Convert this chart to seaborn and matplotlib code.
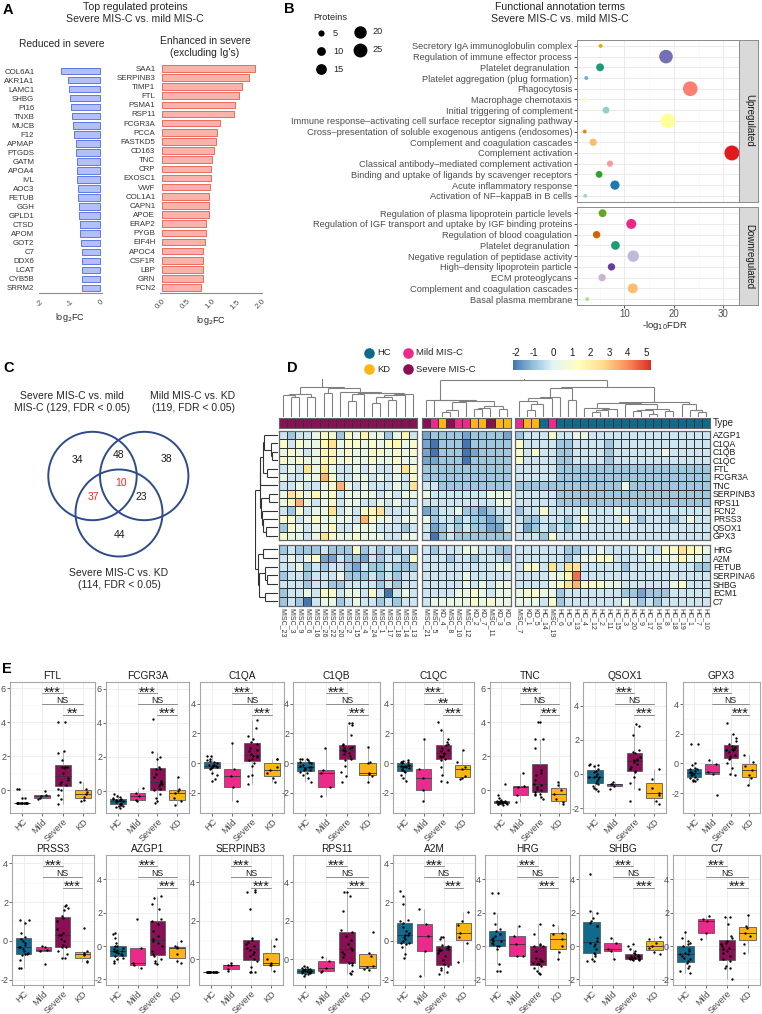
"""Multi-panel proteomics figure: MIS-C severity (panels A-E)."""

import numpy as np
import pandas as pd
import matplotlib
matplotlib.use("Agg")
import matplotlib.pyplot as plt
import matplotlib.transforms as mtransforms
from matplotlib.collections import LineCollection
from matplotlib.colors import LinearSegmentedColormap, ListedColormap, Normalize
from matplotlib.patches import Circle
import seaborn as sns

W, H = 762, 1014

# ---------------- A: top regulated proteins ----------------
reduced_genes = ["COL6A1", "AKR1A1", "LAMC1", "SHBG", "PI16", "TNXB", "MUCB", "F12", "APMAP",
                 "PTGDS", "GATM", "APOA4", "IVL", "AOC3", "FETUB", "GGH", "GPLD1", "CTSD",
                 "APOM", "GOT2", "C7", "DDX6", "LCAT", "CYB5B", "SRRM2"]
reduced_fc = [-1.31, -1.06, -1.05, -0.99, -0.96, -0.92, -0.89, -0.86, -0.81, -0.79, -0.78, -0.76,
              -0.76, -0.72, -0.72, -0.69, -0.69, -0.66, -0.66, -0.62, -0.61, -0.60, -0.59, -0.59, -0.59]
enhanced_genes = ["SAA1", "SERPINB3", "TIMP1", "FTL", "PSMA1", "RSP11", "FCGR3A", "PCCA", "FASTKD5",
                  "CD163", "TNC", "CRP", "EXOSC1", "VWF", "COL1A1", "CAPN1", "APOE", "ERAP2", "PYGB",
                  "EIF4H", "APOC4", "CSF1R", "LBP", "GRN", "FCN2"]
enhanced_fc = [1.85, 1.73, 1.59, 1.53, 1.45, 1.43, 1.15, 1.09, 1.07, 1.03, 0.99, 0.97, 0.97, 0.95,
               0.94, 0.93, 0.93, 0.88, 0.87, 0.85, 0.82, 0.82, 0.81, 0.81, 0.77]

# ---------------- B: functional annotation terms ----------------
up_terms = ["Secretory IgA immunoglobulin complex", "Regulation of immune effector process",
            "Platelet degranulation ", "Platelet aggregation (plug formation)", "Phagocytosis",
            "Macrophage chemotaxis", "Initial triggering of complement",
            "Immune response\u2013activating cell surface receptor signaling pathway",
            "Cross\u2013presentation of soluble exogenous antigens (endosomes)",
            "Complement and coagulation cascades", "Complement activation",
            "Classical antibody\u2013mediated complement activation",
            "Binding and uptake of ligands by scavenger receptors", "Acute inflammatory response",
            "Activation of NF\u2013kappaB in B cells"]
up_fdr = [5.2, 18.4, 5.1, 2.3, 23.3, 2.0, 6.3, 18.8, 2.0, 3.7, 31.7, 7.1, 4.9, 8.1, 2.1]
up_n = [2, 24, 8, 2, 28, 2, 6, 28, 2, 7, 29, 5, 6, 11, 2]
up_colors = ["#E6AB02", "#7570B3", "#1B9E77", "#6BAED6", "#FB8072", "#FFFFB3", "#8DD3C7", "#FFFF99",
             "#FF7F00", "#FDBF6F", "#E31A1C", "#FB9A99", "#33A02C", "#1F78B4", "#A6CEE3"]
down_terms = ["Regulation of plasma lipoprotein particle levels",
              "Regulation of IGF transport and uptake by IGF binding proteins",
              "Regulation of blood coagulation", "Platelet degranulation ",
              "Negative regulation of peptidase activity", "High\u2013density lipoprotein particle",
              "ECM proteoglycans", "Complement and coagulation cascades", "Basal plasma membrane"]
down_fdr = [5.6, 11.4, 4.4, 8.2, 11.8, 7.4, 5.5, 11.7, 2.5]
down_n = [8, 13, 7, 10, 17, 7, 7, 13, 2]
down_colors = ["#66A61E", "#E7298A", "#D95F02", "#1B9E77", "#BEBADA", "#6A3D9A", "#CAB2D6",
               "#FDBF6F", "#B2DF8A"]
legend_n = [5, 10, 15, 20, 25]

# ---------------- C: Venn counts ----------------
venn_counts = [34, 48, 38, 37, 10, 23, 44]

# ---------------- D: heatmap ----------------
hm_rows = ["AZGP1", "C1QA", "C1QB", "C1QC", "FTL", "FCGR3A", "TNC", "SERPINB3", "RPS11", "FCN2",
           "PRSS3", "QSOX1", "GPX3", "HRG", "A2M", "FETUB", "SERPINA6", "SHBG", "ECM1", "C7"]
cols_c1 = ["MISC_23", "MISC_3", "MISC_9", "MISC_6", "MISC_16", "MISC_26", "MISC_22", "MISC_20",
           "MISC_2", "MISC_15", "MISC_4", "MISC_24", "MISC_1", "MISC_17", "MISC_18", "MISC_14", "MISC_13"]
cols_c2 = ["MISC_21", "MISC_5", "KD_4", "MISC_8", "MISC_10", "MISC_12", "KD_2", "KD_7", "MISC_11",
           "KD_3", "KD_6"]
cols_c3 = ["MISC_7", "KD_1", "KD_5", "HC_14", "MISC_19", "HC_6", "HC_5", "HC_13", "HC_4", "HC_12",
           "HC_2", "HC_11", "HC_15", "HC_3", "HC_20", "HC_9", "HC_17", "HC_16", "HC_8", "HC_18",
           "HC_19", "HC_1", "HC_7", "HC_10"]
# H = HC, M = mild MIS-C, S = severe MIS-C, K = KD
types_c1 = "SSSSSS SSSSSS SSSSS"
types_c2 = "SMKSMM KKSKK"
types_c3 = "MKKHMH HHHHHH HHHHHH HHHHHH"
# one character per cell, decoded with hm_levels
hm_levels = {"0": -2.0, "1": -1.35, "2": -0.8, "3": -0.25, "4": 0.4, "5": 1.0, "6": 1.6,
             "7": 2.4, "8": 3.2, "9": 4.2}
hm_c1 = ["323345 525464 42463", "535446 745545 45645", "454346 645445 54545", "545446 645445 44544",
         "343747 433434 33475", "433448 533443 43435", "334334 584343 33437", "476464 534444 34344",
         "468434 534433 43433", "325344 734356 73334", "553454 444385 44344", "254344 633444 33323",
         "544347 544544 43344", "232223 222523 23232", "343451 132213 23325", "334232 332132 23222",
         "233233 342223 23233", "333233 223333 23233", "233435 534435 30343", "232034 423433 23233"]
hm_c2 = ["122221 22221", "102220 22222", "102220 12222", "112220 22222", "222222 22222",
         "222222 22222", "332222 22222", "433333 33444", "333333 33344", "123342 21233",
         "423323 22123", "312323 22113", "302322 22222", "323334 43322", "333233 23332",
         "333333 33344", "333334 33333", "333334 34344", "333344 54344", "344444 54544"]
hm_c3 = ["233353 344333 333333 333333", "533332 233332 333333 333333", "535332 233332 333333 433333",
         "533332 233332 333333 333333", "333332 222222 222222 222222", "333332 222222 222222 222222",
         "222222 222222 242222 222222", "333332 222222 222222 222222", "333332 222222 222222 222222",
         "233533 334333 433333 333333", "322333 235333 353233 323433", "312323 233333 333333 333333",
         "333253 333333 333333 333333", "333333 223343 333433 557654", "333333 234455 333344 446443",
         "355373 773333 323333 333322", "333344 693333 333333 333333", "333345 785554 433333 345333",
         "455442 333333 322122 233333", "444352 333333 343232 333333"]

# ---------------- E: per-protein box plots (HC, Mild, Severe, KD) ----------------
e_groups = ["HC", "Mild", "Severe", "KD"]
ftl = ([0.1, 0.1, -0.45, -0.45, -0.75, -0.75, -0.75, -0.75, -0.75, -0.75, -0.75, -0.75, -0.75, -0.75,
        -0.75, -0.75, -0.75, -0.75, -0.75, -0.75],
       [-0.02, -0.3, -0.35, -0.45, -0.5],
       [4.0, 4.0, 2.3, 2.2, 1.8, 1.4, 1.4, 1.35, 1.3, 1.0, 0.7, 0.6, 0.5, 0.4, 0.3, 0.1, 0.0, -0.3, -0.5, -0.8],
       [0.5, 0.1, -0.1, -0.2, -0.4, -0.55, -0.6])
fcgr3a = ([-0.2, -0.3, -0.35, -0.4, -0.45, -0.45, -0.5, -0.55, -0.55, -0.6, -0.6, -0.65, -0.7, -0.75,
           -0.78, -0.8, -0.85, -0.9, -0.95, -1.0],
          [0.2, -0.1, -0.3, -0.55, -0.6],
          [4.2, 2.3, 2.0, 1.9, 1.4, 1.3, 1.3, 1.0, 0.8, 0.6, 0.5, 0.4, 0.4, 0.3, 0.1, 0.05, -0.2, -0.4, -0.6, -0.7],
          [0.85, 0.1, 0.0, -0.1, -0.4, -0.6, -0.8])
c1qa = ([0.5, 0.45, 0.3, 0.2, 0.15, 0.05, 0.0, -0.1, -0.15, -0.15, -0.2, -0.2, -0.25, -0.3, -0.35, -0.4,
         -0.7, -0.8, -1.1, -1.2],
        [1.35, -0.4, -0.85, -1.6, -2.6],
        [2.9, 2.4, 1.8, 1.6, 1.4, 1.3, 1.0, 0.9, 0.8, 0.6, 0.5, 0.5, 0.4, 0.3, 0.2, 0.0, -0.2, -0.8, -0.9, -1.4],
        [0.3, 0.25, -0.3, -0.5, -0.7, -1.0, -1.3])
c1qb = ([0.3, 0.3, 0.25, 0.2, 0.1, 0.1, 0.0, -0.1, -0.2, -0.25, -0.3, -0.35, -0.4, -0.45, -0.5, -0.6,
         -0.7, -0.8, -1.0, -1.3],
        [1.0, -0.45, -0.65, -1.65, -2.2],
        [2.7, 2.7, 2.6, 1.9, 1.3, 1.2, 1.1, 1.0, 1.0, 0.9, 0.8, 0.7, 0.6, 0.5, 0.3, 0.2, -0.2, -0.6, -0.9, -1.3],
        [1.1, 0.05, 0.0, -0.7, -0.75, -0.85, -1.3])
c1qc = ([0.2, 0.15, 0.1, 0.1, 0.05, 0.0, -0.1, -0.15, -0.2, -0.2, -0.25, -0.3, -0.35, -0.4, -0.5, -0.55,
         -0.6, -0.8, -1.0, -1.2],
        [1.6, -0.4, -1.0, -1.8, -2.6],
        [2.8, 2.2, 1.6, 1.4, 1.3, 1.2, 1.0, 0.9, 0.8, 0.7, 0.6, 0.5, 0.5, 0.4, 0.3, 0.2, -0.3, -0.8, -1.2, -1.3],
        [0.9, 0.1, -0.3, -0.4, -0.9, -1.0, -1.1])
tnc = ([0.35, -0.3, -0.45, -0.55, -0.6, -0.65, -0.65, -0.7, -0.7, -0.7, -0.7, -0.72, -0.75, -0.75, -0.75,
        -0.75, -0.78, -0.8, -0.8, -0.85],
       [1.0, 0.25, 0.2, -0.3, -0.7],
       [4.0, 4.0, 3.0, 3.0, 2.5, 1.2, 1.0, 0.9, 0.6, 0.4, 0.3, 0.2, 0.1, 0.0, -0.1, -0.2, -0.2, -0.3, -0.4, -0.5],
       [0.5, 0.3, 0.0, -0.2, -0.5, -0.7, -0.8])
qsox1 = ([0.6, 0.55, 0.5, 0.45, 0.3, 0.2, 0.1, 0.0, -0.1, -0.15, -0.15, -0.2, -0.3, -0.4, -0.5, -0.6,
          -0.7, -0.8, -0.9, -1.0],
         [-0.45, -0.6, -0.6, -0.7, -0.9],
         [2.9, 2.8, 2.3, 1.4, 1.3, 1.2, 1.0, 0.9, 0.8, 0.8, 0.7, 0.6, 0.4, 0.3, 0.2, 0.1, -0.2, -0.5, -0.9, -1.6],
         [0.3, -0.3, -0.8, -1.1, -1.2, -1.6, -1.75])
gpx3 = ([1.3, 1.3, 0.0, -0.1, -0.3, -0.35, -0.4, -0.5, -0.55, -0.6, -0.65, -0.7, -0.75, -0.8, -0.9, -1.0,
         -1.05, -1.1, -1.2, -1.2],
        [0.25, -0.05, -0.55, -0.7, -2.15],
        [2.7, 2.0, 1.7, 1.5, 1.3, 1.2, 1.1, 1.0, 1.0, 0.9, 0.9, 0.8, 0.6, 0.5, 0.4, 0.3, 0.0, -0.3, -0.7, -0.8],
        [0.55, 0.1, -0.2, -0.45, -0.8, -1.0, -1.45])
prss3 = ([1.05, 1.05, 0.9, 0.4, 0.2, 0.1, 0.0, -0.1, -0.2, -0.3, -0.3, -0.4, -0.5, -0.6, -0.7, -0.7, -0.75,
          -1.0, -1.4, -1.4],
         [-0.25, -0.3, -0.45, -0.5, -1.2],
         [1.85, 1.8, 1.7, 1.6, 1.3, 1.2, 1.0, 0.6, 0.4, 0.3, 0.3, 0.1, 0.0, -0.2, -0.3, -0.3, -0.5, -0.7, -0.9, -0.9],
         [0.65, -0.5, -0.6, -0.7, -0.75, -1.05, -1.1])
azgp1 = ([0.8, 0.7, 0.5, 0.2, 0.0, 0.0, -0.1, -0.2, -0.25, -0.3, -0.3, -0.35, -0.4, -0.5, -0.55, -0.6,
          -0.7, -0.8, -0.9, -1.0],
         [1.6, -0.1, -1.0, -1.15, -1.3],
         [3.0, 2.9, 2.5, 2.2, 1.6, 1.5, 1.3, 0.9, 0.6, 0.4, 0.3, 0.2, 0.0, -0.3, -0.5, -0.6, -0.8, -0.9, -1.0, -1.1],
         [0.3, 0.0, -0.05, -0.1, -0.5, -0.9, -1.0])
serpinb3 = ([-0.65, -0.65, -0.65, -0.65, -0.65, -0.65, -0.65, -0.65, -0.65, -0.65, -0.65, -0.65, -0.65,
             -0.65, -0.65, -0.65, -0.65, -0.65, -0.65, -0.65],
            [-0.2, -0.3, -0.3, -0.5, -0.6],
            [3.6, 3.5, 3.5, 2.6, 1.1, 1.0, 0.9, 0.8, 0.7, 0.6, 0.5, 0.4, 0.3, 0.2, 0.0, -0.1, -0.4, -0.65, -0.65, -0.65],
            [1.05, 0.7, 0.0, -0.2, -0.3, -0.3, -0.6])
rps11 = ([-0.35, -0.4, -0.45, -0.48, -0.5, -0.52, -0.55, -0.57, -0.6, -0.6, -0.6, -0.62, -0.65, -0.65,
          -0.68, -0.7, -0.72, -0.75, -0.78, -0.85],
         [0.1, -0.1, -0.45, -0.6, -0.65],
         [3.5, 3.5, 3.3, 2.5, 1.5, 1.4, 1.2, 1.0, 0.8, 0.6, 0.5, 0.4, 0.3, 0.1, -0.2, -0.2, -0.3, -0.6, -0.7, -0.75],
         [1.4, 0.35, 0.2, -0.35, -0.4, -0.5, -0.55])
a2m = ([2.55, 2.3, 1.9, 1.1, 1.0, 0.9, 0.7, 0.5, 0.4, 0.3, 0.3, 0.2, 0.1, 0.0, -0.1, -0.1, -0.15, -0.3,
        -0.7, -0.9],
       [1.65, 0.85, 0.25, -0.5, -1.8],
       [0.2, 0.2, 0.1, -0.2, -0.25, -0.3, -0.35, -0.4, -0.4, -0.45, -0.5, -0.6, -0.8, -1.0, -1.2, -1.3, -1.4, -1.5, -1.6, -1.7],
       [1.5, 1.0, 0.8, 0.4, 0.2, -0.1, -1.1])
hrg = ([3.2, 3.2, 2.0, 1.3, 1.0, 0.9, 0.7, 0.6, 0.5, 0.4, 0.3, 0.3, 0.2, 0.1, 0.0, 0.0, -0.2, -1.1, -1.5, -1.5],
       [1.2, 0.6, 0.15, -0.6, -0.6],
       [1.3, 0.7, 0.1, 0.05, 0.0, 0.0, -0.3, -0.7, -0.8, -0.9, -0.9, -1.0, -1.0, -1.1, -1.1, -1.2, -1.3, -1.5, -1.6, -1.7],
       [1.25, 0.8, 0.75, 0.45, 0.0, -0.35, -0.75])
shbg = ([4.3, 2.1, 2.0, 1.7, 1.5, 1.4, 1.2, 1.2, 0.5, 0.3, 0.2, 0.1, 0.0, -0.2, -0.4, -0.5, -0.6, -0.8, -0.9, -0.9],
        [0.5, 0.2, -0.15, -0.3, -0.8],
        [0.1, 0.0, -0.2, -0.3, -0.4, -0.5, -0.55, -0.6, -0.6, -0.6, -0.65, -0.7, -0.7, -0.7, -0.75, -0.75, -0.8,
         -0.8, -0.85, -0.85],
        [0.55, 0.45, 0.2, 0.0, -0.1, -0.35, -0.5])
c7 = ([0.85, 0.5, 0.3, 0.2, 0.1, 0.0, -0.2, -0.3, -0.4, -0.45, -0.5, -0.6, -0.7, -0.8, -0.9, -1.0, -1.2, -1.3,
       -1.5, -1.6],
      [1.8, 1.6, 1.5, 0.8, 0.4],
      [1.75, 1.75, 1.3, 0.6, 0.5, 0.3, 0.2, 0.1, 0.0, -0.1, -0.2, -0.3, -0.4, -0.6, -0.8, -0.9, -1.2, -1.3, -1.3, -2.0],
      [1.85, 1.2, 1.1, 0.8, 0.6, 0.1, -0.4])

e_genes = ["FTL", "FCGR3A", "C1QA", "C1QB", "C1QC", "TNC", "QSOX1", "GPX3",
           "PRSS3", "AZGP1", "SERPINB3", "RPS11", "A2M", "HRG", "SHBG", "C7"]
e_sets = [ftl, fcgr3a, c1qa, c1qb, c1qc, tnc, qsox1, gpx3, prss3, azgp1, serpinb3, rps11, a2m, hrg, shbg, c7]
e_ylims = [(-1.35, 6.4), (-1.3, 6.4), (-3.4, 5.5), (-3.4, 5.5), (-3.4, 5.5), (-1.35, 6.4), (-2.3, 5.4),
           (-3.35, 5.5), (-2.27, 4.42), (-2.33, 5.46), (-1.33, 5.42), (-1.33, 5.42), (-2.27, 4.42),
           (-2.33, 5.46), (-2.33, 5.46), (-2.33, 5.46)]
e_stars = [("***", "NS", "**"), ("***", "NS", "***"), ("***", "NS", "***"), ("***", "NS", "***"),
           ("***", "**", "***"), ("***", "NS", "***"), ("***", "NS", "***"), ("***", "NS", "***"),
           ("***", "NS", "***"), ("***", "NS", "***"), ("***", "NS", "***"), ("***", "NS", "***"),
           ("***", "NS", "***"), ("***", "NS", "***"), ("***", "NS", "***"), ("***", "NS", "***")]

group_colors = {"HC": "#0F6A8B", "Mild": "#EC2A8C", "Severe": "#8A1055", "KD": "#FDB515"}

sns.set_theme(style="white")
plt.rcParams["font.family"] = ["Liberation Sans", "DejaVu Sans"]
plt.rcParams["axes.unicode_minus"] = False

fig = plt.figure(figsize=(W / 100, H / 100), dpi=100)
GRAY_TXT = "#4D4D4D"


def px_axes(x0, y0, x1, y1):
    """Axes from pixel box (origin top-left)."""
    return fig.add_axes([x0 / W, 1 - y1 / H, (x1 - x0) / W, (y1 - y0) / H])


# ---------------- panel A ----------------
def bar_panel(box, genes, fc, fill, edge, xlim, ticks, fmt):
    ax = px_axes(*box)
    sns.barplot(x=fc, y=genes, orient="h", color=fill, saturation=1, edgecolor=edge,
                linewidth=0.7, width=0.72, ax=ax)
    ax.set_xlim(*xlim)
    ax.set_ylim(len(genes) - 0.4, -0.6)
    ax.set_xticks(ticks)
    ax.set_xticklabels([fmt.format(t) for t in ticks], rotation=45, ha="right",
                       rotation_mode="anchor")
    ax.tick_params(axis="y", length=2, width=0.6, color="#8C8C8C", labelsize=5.7,
                   labelcolor="#333333", pad=1)
    ax.tick_params(axis="x", length=2, width=0.6, color="#8C8C8C", labelsize=5.8,
                   labelcolor=GRAY_TXT, pad=1.5)
    for side in ("top", "right", "left"):
        ax.spines[side].set_visible(False)
    ax.spines["bottom"].set_color("#8C8C8C")
    ax.spines["bottom"].set_linewidth(0.8)
    ax.set_xlabel("log$_2$FC", fontsize=6.5, labelpad=2)
    ax.set_ylabel("")
    return ax


bar_panel((38.5, 65.6, 101.5, 293.4), reduced_genes, reduced_fc, "#B3BFF6", "#5C78E8",
          (-2.05, 0.05), [-2, -1, 0], "{:d}")
bar_panel((159.5, 62.8, 262, 293.2), enhanced_genes, enhanced_fc, "#F8B4AC", "#EE6A5D",
          (-0.05, 2.0), [0.0, 0.5, 1.0, 1.5, 2.0], "{:.1f}")


# ---------------- panel B ----------------
def bubble_panel(box, terms, fdr, n, colors, show_x):
    ax = px_axes(*box)
    df = pd.DataFrame({"term": terms, "fdr": fdr, "n": n, "pos": np.arange(len(terms))})
    sns.scatterplot(data=df, x="fdr", y="pos", hue="term", palette=dict(zip(terms, colors)),
                    size="n", sizes=(4, 120), size_norm=(1, 30), linewidth=0, legend=False,
                    ax=ax, zorder=3)
    ax.set_xlim(0.44, 33.2)
    ax.set_ylim(len(terms) - 0.45, -0.55)
    ax.set_yticks(np.arange(len(terms)))
    ax.set_yticklabels(terms)
    ax.set_xticks([10, 20, 30])
    ax.set_xticks([5, 15, 25], minor=True)
    ax.set_axisbelow(True)
    ax.grid(which="major", color="#EBEBEB", lw=0.7)
    ax.grid(which="minor", axis="x", color="#F5F5F5", lw=0.5)
    ax.tick_params(axis="y", length=2, width=0.6, color="#333333", labelsize=6.7,
                   labelcolor=GRAY_TXT, pad=1.5, left=True)
    ax.tick_params(which="minor", length=0)
    if show_x:
        ax.tick_params(axis="x", length=2, width=0.6, color="#333333", labelsize=7,
                       labelcolor=GRAY_TXT, pad=1, bottom=True)
    else:
        ax.tick_params(axis="x", length=0, labelbottom=False)
    for sp in ax.spines.values():
        sp.set_color("#8C8C8C")
        sp.set_linewidth(0.7)
    ax.spines["right"].set_color("#333333")
    ax.set_xlabel("")
    ax.set_ylabel("")
    return ax


bubble_panel((577, 40, 739.3, 201.7), up_terms, up_fdr, up_n, up_colors, False)
bubble_panel((577, 207.3, 739.3, 305), down_terms, down_fdr, down_n, down_colors, True)

for (y0, y1), lab in [((40, 201.7), "Upregulated"), ((207.3, 305), "Downregulated")]:
    sax = px_axes(739.3, y0, 758.3, y1)
    sax.set_facecolor("#D9D9D9")
    sax.set_xticks([])
    sax.set_yticks([])
    for sp in sax.spines.values():
        sp.set_color("#8C8C8C")
        sp.set_linewidth(0.7)
    sax.text(0.5, 0.5, lab, rotation=-90, ha="center", va="center", fontsize=7,
             color="#1A1A1A", transform=sax.transAxes)

# ---------------- panel D: heatmap ----------------
stops = [(-2, "#4575B4"), (-1, "#91BFDB"), (0, "#E0F3F8"), (1.3, "#FFFFBF"), (2.5, "#FEE090"),
         (3.8, "#FC8D59"), (5, "#D73027")]
hm_cmap = LinearSegmentedColormap.from_list("hm", [((v + 2) / 7, c) for v, c in stops])
type_cmap = ListedColormap([group_colors[g] for g in e_groups])


def decode(strings):
    return np.array([[hm_levels[ch] for ch in s.replace(" ", "")] for s in strings])


mats = [decode(c) for c in (hm_c1, hm_c2, hm_c3)]
col_names = [cols_c1, cols_c2, cols_c3]
col_types = [t.replace(" ", "") for t in (types_c1, types_c2, types_c3)]
blocks_x = [(279.0, 416.7), (421.7, 510.7), (515.0, 710.0)]
bands = [(430.7, 540.0, 0, 13), (545.0, 605.7, 13, 20)]


def neighbour_tree(vectors):
    """Average-linkage merges of neighbouring leaves only, so the drawn order is kept."""
    nodes = [(float(i), 0.0, [i]) for i in range(len(vectors))]
    segs = []
    while len(nodes) > 1:
        dists = []
        for k in range(len(nodes) - 1):
            a, b = nodes[k][2], nodes[k + 1][2]
            dists.append(np.mean([np.linalg.norm(vectors[i] - vectors[j]) for i in a for j in b]))
        k = int(np.argmin(dists))
        (xa, ha, ma), (xb, hb, mb) = nodes[k], nodes[k + 1]
        h = max(dists[k], ha + 0.15, hb + 0.15)
        segs += [[(xa, ha), (xa, h)], [(xb, hb), (xb, h)], [(xa, h), (xb, h)]]
        nodes[k:k + 2] = [((xa + xb) / 2, h, ma + mb)]
    return segs, nodes[0][0], nodes[0][1]


for bi, ((x0, x1), m, names, types) in enumerate(zip(blocks_x, mats, col_names, col_types)):
    tax = px_axes(x0, 418.3, x1, 427.7)
    codes = np.array([["HMSK".index(t) for t in types]])
    sns.heatmap(codes, cmap=type_cmap, vmin=-0.5, vmax=3.5, cbar=False, linewidths=0.5,
                linecolor="#333333", xticklabels=False, yticklabels=False, ax=tax)
    for sp in tax.spines.values():
        sp.set_visible(True)
        sp.set_color("#666666")
        sp.set_linewidth(0.8)
    for y0, y1, r0, r1 in bands:
        ax = px_axes(x0, y0, x1, y1)
        sns.heatmap(m[r0:r1], cmap=hm_cmap, vmin=-2, vmax=5, cbar=False, linewidths=0.5,
                    linecolor="#333333", xticklabels=False, yticklabels=False, ax=ax)
        for sp in ax.spines.values():
            sp.set_visible(True)
            sp.set_color("#666666")
            sp.set_linewidth(0.9)
        if r1 == 20:
            ax.set_xticks(np.arange(len(names)) + 0.5)
            ax.set_xticklabels(names, rotation=270, fontsize=5, color="#333333",
                               ha="center", va="top")
            ax.tick_params(axis="x", length=0, pad=1.5)
        if bi == 2:
            ax.yaxis.tick_right()
            ax.set_yticks(np.arange(r1 - r0) + 0.5)
            ax.set_yticklabels(hm_rows[r0:r1], rotation=0, fontsize=6.2, color="#1A1A1A")
            ax.tick_params(axis="y", length=0, pad=2)

# column dendrogram
col_ax = px_axes(279, 379, 710, 417.5)
segs_all, roots = [], []
for (x0, x1), m in zip(blocks_x, mats):
    cw = (x1 - x0) / m.shape[1]
    segs, rx, rh = neighbour_tree(list(m.T))
    segs_all += [[(x0 + (a[0] + 0.5) * cw, a[1]), (x0 + (b[0] + 0.5) * cw, b[1])] for a, b in segs]
    roots.append((x0 + (rx + 0.5) * cw, rh))
h23 = max(r[1] for r in roots) * 1.22
(xr1, h1), (xr2, h2), (xr3, h3) = roots
segs_all += [[(xr2, h2), (xr2, h23)], [(xr3, h3), (xr3, h23)], [(xr2, h23), (xr3, h23)],
             [((xr2 + xr3) / 2, h23), ((xr2 + xr3) / 2, h23 * 2)], [(xr1, h1), (xr1, h23 * 2)]]
col_ax.add_collection(LineCollection(segs_all, colors="#808080", linewidths=0.8))
col_ax.set_xlim(279, 710)
col_ax.set_ylim(0, h23 * 1.03)
col_ax.axis("off")

# row dendrogram
full = np.hstack(mats)
row_ax = px_axes(255, 430.7, 278, 605.7)
rsegs, rroots = [], []
for y0, y1, r0, r1 in bands:
    rhgt = (y1 - y0) / (r1 - r0)
    segs, rp, rh = neighbour_tree(list(full[r0:r1]))
    rsegs += [[(a[1], y0 + (a[0] + 0.5) * rhgt), (b[1], y0 + (b[0] + 0.5) * rhgt)] for a, b in segs]
    rroots.append((y0 + (rp + 0.5) * rhgt, rh))
hroot = max(r[1] for r in rroots) * 1.12
(yu, hu), (yl, hl) = rroots
rsegs += [[(hu, yu), (hroot, yu)], [(hl, yl), (hroot, yl)], [(hroot, yu), (hroot, yl)]]
row_ax.add_collection(LineCollection(rsegs, colors="#333333", linewidths=0.8))
row_ax.set_xlim(hroot * 1.02, 0)
row_ax.set_ylim(605.7, 430.7)
row_ax.axis("off")

# colour key
cax = px_axes(513, 359.5, 651, 370)
sm = plt.cm.ScalarMappable(norm=Normalize(-2.13, 5.23), cmap=hm_cmap)
cb = fig.colorbar(sm, cax=cax, orientation="horizontal", ticks=range(-2, 6))
cb.outline.set_visible(False)
cax.xaxis.set_ticks_position("top")
cax.tick_params(length=0, labelsize=7, pad=1, labelcolor="#1A1A1A")

# ---------------- panel E ----------------
row_boxes = [
    ([10, 106, 200, 293, 393, 490, 583, 683], [95, 189, 284, 380, 474, 570, 666, 760], 681.7, 813.3),
    ([12, 106, 199, 293, 393, 485, 579, 673], [94, 189, 283, 380, 475, 570, 667, 760], 855.0, 985.0),
]
np.random.seed(11)


def box_panel(box, gene, sets, ylim, stars):
    ax = px_axes(*box)
    df = pd.DataFrame({"group": np.repeat(e_groups, [len(v) for v in sets]),
                       "value": np.concatenate(sets)})
    sns.boxplot(data=df, x="group", y="value", hue="group", order=e_groups, hue_order=e_groups,
                palette=group_colors, width=0.78, linewidth=0.6, linecolor="#5A5A5A",
                showfliers=False, showcaps=False, saturation=1, legend=False,
                whiskerprops={"color": "#A6A6A6"}, medianprops={"color": "#333333"}, ax=ax)
    sns.stripplot(data=df, x="group", y="value", order=e_groups, color="black", size=1.7,
                  jitter=0.28, ax=ax, zorder=4)
    ax.set_xlim(-0.6, 3.6)
    ax.set_ylim(*ylim)
    ticks = [t for t in (-2, 0, 2, 4, 6) if ylim[0] < t < ylim[1]]
    ax.set_yticks(ticks)
    ax.set_yticks([t for t in (-3, -1, 1, 3, 5) if ylim[0] < t < ylim[1]], minor=True)
    ax.set_axisbelow(True)
    ax.grid(which="major", color="#EBEBEB", lw=0.6)
    ax.grid(which="minor", axis="y", color="#F5F5F5", lw=0.4)
    ax.tick_params(which="minor", length=0)
    ax.tick_params(axis="both", which="major", length=2, width=0.6, color="#555555",
                   labelsize=6.5, labelcolor=GRAY_TXT, pad=0.8, left=True, bottom=True)
    plt.setp(ax.get_xticklabels(), rotation=45, ha="right", rotation_mode="anchor")
    for sp in ax.spines.values():
        sp.set_color("#A6A6A6")
        sp.set_linewidth(0.8)
    ax.set_xlabel("")
    ax.set_ylabel("")
    ax.set_title(gene, fontsize=7.3, pad=2, color="#1A1A1A")
    trans = mtransforms.blended_transform_factory(ax.transData, ax.transAxes)
    for (g0, g1), yy, lab in zip([(1, 2), (1, 3), (2, 3)], [0.912, 0.83, 0.748], stars):
        ax.plot([g0, g1], [yy, yy], transform=trans, color="#8C8C8C", lw=0.7, clip_on=False)
        star = "*" in lab
        ax.annotate(lab, xy=((g0 + g1) / 2, yy), xycoords=trans,
                    xytext=(0, -2.4 if star else 0.8), textcoords="offset points",
                    ha="center", va="baseline", fontsize=10.5 if star else 6.3,
                    color="#1A1A1A")


for i, (gene, sets, ylim, stars) in enumerate(zip(e_genes, e_sets, e_ylims, e_stars)):
    lefts, rights, top, bottom = row_boxes[i // 8]
    box_panel((lefts[i % 8], top, rights[i % 8], bottom), gene, sets, ylim, stars)

# ---------------- overlay: letters, titles, Venn, legends ----------------
ov = px_axes(0, 0, W, H)
ov.set_xlim(0, W)
ov.set_ylim(H, 0)
ov.axis("off")
for lab, (x, y) in zip("ABCDE", [(3, 10), (284, 9), (3, 368), (287, 368), (2, 669)]):
    ov.text(x, y, lab, fontsize=10.5, fontweight="bold", va="center", ha="left", color="black")

ov.text(135, 13, "Top regulated proteins\nSevere MIS-C vs. mild MIS-C", ha="center", va="center",
        fontsize=7.6, linespacing=1.25)
ov.text(62, 44, "Reduced in severe", ha="center", va="center", fontsize=7.4)
ov.text(205, 47, "Enhanced in severe\n(excluding Ig's)", ha="center", va="center", fontsize=7.4,
        linespacing=1.25)
ov.text(560, 13, "Functional annotation terms\nSevere MIS-C vs. mild MIS-C", ha="center",
        va="center", fontsize=7.6, linespacing=1.25)
ov.text(665, 326, "-log$_{10}$FDR", ha="center", va="center", fontsize=6.8)

# bubble size key
ov.text(313, 18, "Proteins", ha="left", va="center", fontsize=6.6)
for n, (x, y) in zip(legend_n, [(321, 33), (321, 51), (321, 69), (360, 32), (360, 50)]):
    ov.scatter([x], [y], s=4 * n, color="black", linewidths=0)
    ov.text(x + 12, y, str(n), ha="left", va="center", fontsize=6.6)

# Venn diagram
for cx, cy, r in [(92.5, 476, 44.2), (144.2, 476, 44.2), (119, 513, 43.5)]:
    ov.add_patch(Circle((cx, cy), r, fill=False, ec="#2F4B8C", lw=1.4))
venn_pos = [(77.7, 460), (119, 455), (166, 459), (93, 497), (120.7, 483), (141.7, 497), (119, 535)]
for cnt, (x, y) in zip(venn_counts, venn_pos):
    red = cnt in (37, 10)
    ov.text(x, y, str(cnt), ha="center", va="center", fontsize=7.5,
            color="#FF2020" if red else "#1A1A1A")
ov.text(72, 402, "Severe MIS-C vs. mild\nMIS-C (129, FDR < 0.05)", ha="center", va="center",
        fontsize=7.5, linespacing=1.2)
ov.text(193, 402, "Mild MIS-C vs. KD\n(119, FDR < 0.05)", ha="center", va="center",
        fontsize=7.5, linespacing=1.2)
ov.text(119, 579, "Severe MIS-C vs. KD\n(114, FDR < 0.05)", ha="center", va="center",
        fontsize=7.5, linespacing=1.2)

# group key for the heatmap
for lab, g, (x, y) in [("HC", "HC", (369.3, 352.7)), ("Mild MIS-C", "Mild", (407.7, 352.7)),
                       ("KD", "KD", (369.3, 369)), ("Severe MIS-C", "Severe", (407.7, 369))]:
    ov.scatter([x], [y], s=58, color=group_colors[g], linewidths=0)
    ov.text(x + 8, y, lab, ha="left", va="center", fontsize=6.8)
ov.text(713, 423, "Type", ha="left", va="center", fontsize=7)

fig.savefig("out.png", dpi=100)
